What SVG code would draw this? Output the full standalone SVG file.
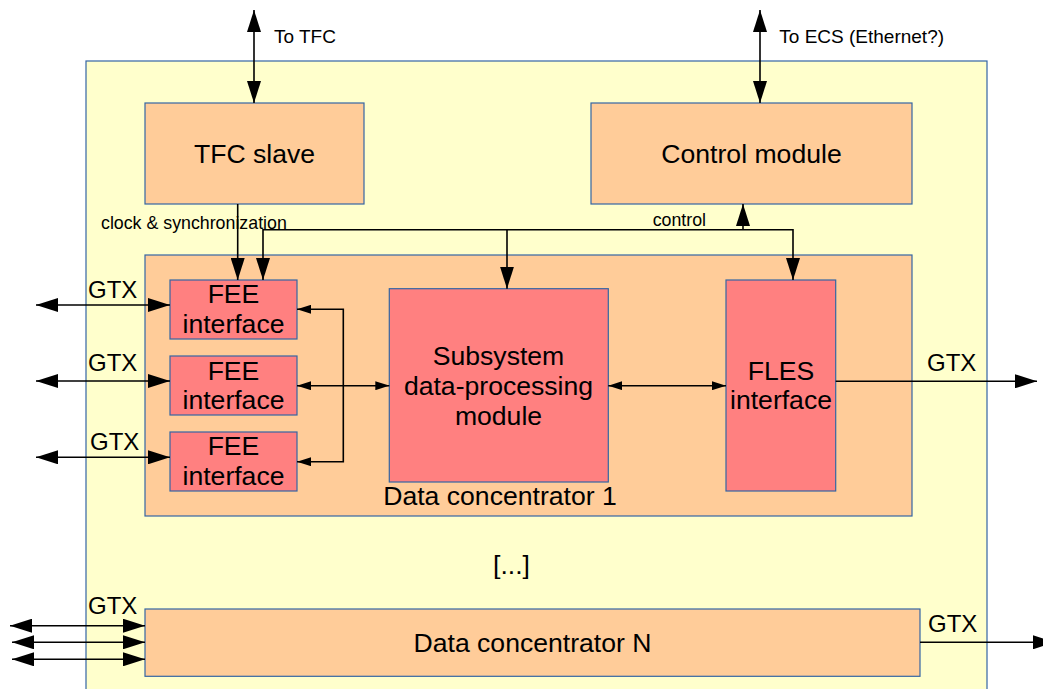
<svg xmlns="http://www.w3.org/2000/svg" width="1043" height="689" viewBox="0 0 1043 689">
<defs>
<style>
.box{stroke:#3465a4;stroke-width:1.2}
.outer{fill:#ffffcc}
.mod{fill:#ffcc99}
.blk{fill:#ff8080}
.ln{stroke:#000;stroke-width:1.6;fill:none}
.t{font-family:"Liberation Sans",Arial,sans-serif;fill:#000}
.big{font-size:26.6px;text-anchor:middle}
.gtx{font-size:24px}
.lbl{font-size:19px}
.sm{font-size:17.8px}
</style>
<marker id="ab" markerUnits="userSpaceOnUse" markerWidth="22" markerHeight="14" refX="22" refY="7" orient="auto-start-reverse" viewBox="0 0 22 14">
<path d="M0,0 L22,7 L0,14 z" fill="#000"/>
</marker>
<marker id="as" markerUnits="userSpaceOnUse" markerWidth="14" markerHeight="9" refX="14" refY="4.5" orient="auto-start-reverse" viewBox="0 0 14 9">
<path d="M0,0 L14,4.5 L0,9 z" fill="#000"/>
</marker>
</defs>

<g id="board">
<rect class="box outer" x="86" y="61" width="901" height="660"/>
</g>

<g id="tfc-slave">
<rect class="box mod" x="145" y="103" width="219" height="101"/>
<text class="t big" x="254.5" y="163">TFC slave</text>
</g>

<g id="control-module">
<rect class="box mod" x="591" y="103" width="321" height="101"/>
<text class="t big" x="751.5" y="163">Control module</text>
</g>

<g id="data-concentrator-1">
<rect class="box mod" x="145" y="255" width="767" height="261"/>
<text class="t big" x="500" y="505">Data concentrator 1</text>
</g>

<g id="fee-1">
<rect class="box blk" x="170" y="280" width="127" height="59"/>
<text class="t big" x="233.5" y="303.3">FEE</text>
<text class="t big" x="233.5" y="333.3">interface</text>
</g>
<g id="fee-2">
<rect class="box blk" x="170" y="356" width="127" height="59"/>
<text class="t big" x="233.5" y="380">FEE</text>
<text class="t big" x="233.5" y="409.3">interface</text>
</g>
<g id="fee-3">
<rect class="box blk" x="170" y="432" width="127" height="59"/>
<text class="t big" x="233.5" y="455">FEE</text>
<text class="t big" x="233.5" y="485">interface</text>
</g>

<g id="subsystem">
<rect class="box blk" x="389.3" y="288.7" width="219" height="193.3"/>
<text class="t big" x="498.5" y="365">Subsystem</text>
<text class="t big" x="498.5" y="395">data-processing</text>
<text class="t big" x="498.5" y="425">module</text>
</g>

<g id="fles">
<rect class="box blk" x="726" y="280" width="109.7" height="211"/>
<text class="t big" x="781" y="380">FLES</text>
<text class="t big" x="781" y="409.3">interface</text>
</g>

<g id="ellipsis">
<text class="t big" x="511.5" y="574">[...]</text>
</g>

<g id="data-concentrator-n">
<rect class="box mod" x="145" y="609" width="775" height="67.3"/>
<text class="t big" x="532.5" y="651.7">Data concentrator N</text>
</g>

<g id="connectors">
<line class="ln" x1="254" y1="10" x2="254" y2="103" marker-start="url(#ab)" marker-end="url(#ab)"/>
<line class="ln" x1="760" y1="10" x2="760" y2="103" marker-start="url(#ab)" marker-end="url(#ab)"/>
<line class="ln" x1="237.7" y1="204" x2="237.7" y2="280" marker-end="url(#ab)"/>
<path class="ln" d="M263,280 V229.7 H793 V280" marker-start="url(#ab)" marker-end="url(#ab)"/>
<line class="ln" x1="507" y1="229.7" x2="507" y2="288.7" marker-end="url(#ab)"/>
<line class="ln" x1="743" y1="229.7" x2="743" y2="204" marker-end="url(#ab)"/>
<line class="ln" x1="36" y1="305" x2="170" y2="305" marker-start="url(#ab)" marker-end="url(#ab)"/>
<line class="ln" x1="36" y1="381" x2="170" y2="381" marker-start="url(#ab)" marker-end="url(#ab)"/>
<line class="ln" x1="36" y1="457.3" x2="170" y2="457.3" marker-start="url(#ab)" marker-end="url(#ab)"/>
<path class="ln" d="M297,309.3 H343.3 V461.7 H297" marker-start="url(#as)" marker-end="url(#as)"/>
<line class="ln" x1="297" y1="385.7" x2="389.3" y2="385.7" marker-start="url(#as)" marker-end="url(#as)"/>
<line class="ln" x1="608.3" y1="385.7" x2="726" y2="385.7" marker-start="url(#as)" marker-end="url(#as)"/>
<line class="ln" x1="835.7" y1="381.3" x2="1037" y2="381.3" marker-end="url(#ab)"/>
<line class="ln" x1="10" y1="625.7" x2="145" y2="625.7" marker-start="url(#ab)" marker-end="url(#ab)"/>
<line class="ln" x1="12" y1="642.3" x2="145" y2="642.3" marker-start="url(#ab)" marker-end="url(#ab)"/>
<line class="ln" x1="12" y1="659.3" x2="145" y2="659.3" marker-start="url(#ab)" marker-end="url(#ab)"/>
<line class="ln" x1="920" y1="642.3" x2="1055" y2="642.3" marker-end="url(#ab)"/>
</g>

<g id="labels">
<text class="t lbl" x="274" y="43.3">To TFC</text>
<text class="t lbl" x="779.3" y="43.3">To ECS (Ethernet?)</text>
<text class="t sm" x="101" y="229.3">clock &amp; synchronization</text>
<text class="t sm" x="652.7" y="226">control</text>
<text class="t gtx" x="88" y="298">GTX</text>
<text class="t gtx" x="88" y="371">GTX</text>
<text class="t gtx" x="90" y="450">GTX</text>
<text class="t gtx" x="927" y="370.7">GTX</text>
<text class="t gtx" x="88" y="614">GTX</text>
<text class="t gtx" x="928" y="631.7">GTX</text>
</g>
</svg>
